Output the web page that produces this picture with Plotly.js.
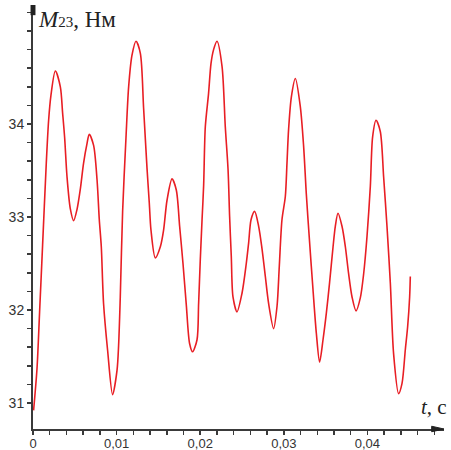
<!DOCTYPE html>
<html>
<head>
<meta charset="utf-8">
<script src="https://cdn.plot.ly/plotly-3.0.1.min.js"></script>
<style>html,body{margin:0;padding:0;background:#fff;}#chart{width:451px;height:450px;}</style>
</head>
<body>
<div id="chart"></div>
<script>
// time, s
const tValues = [
  0.00007, 0.00048, 0.00079, 0.00115, 0.00159, 0.00187, 0.00215, 0.00267,
  0.00327, 0.00354, 0.00378, 0.00407, 0.00446, 0.00486,
  0.00526, 0.00566, 0.00605, 0.00646, 0.00673,
  0.00725, 0.00766, 0.00793, 0.00817, 0.00844, 0.00892, 0.00952,
  0.01005, 0.01024, 0.01044, 0.01072, 0.01112, 0.01144, 0.01184, 0.01232,
  0.01284, 0.01323, 0.01364, 0.01391, 0.01411, 0.01463,
  0.01523, 0.01562, 0.01603, 0.01663,
  0.01714, 0.01754, 0.01794, 0.01834, 0.01873, 0.01909,
  0.01962, 0.01981, 0.02001, 0.02022, 0.02041, 0.02061, 0.02100, 0.02129, 0.02160, 0.02201,
  0.02261, 0.02300, 0.02333, 0.02352, 0.02372, 0.02392, 0.02440,
  0.02500, 0.02551, 0.02579, 0.02608, 0.02651,
  0.02699, 0.02739, 0.02779, 0.02818, 0.02878,
  0.02919, 0.02946, 0.02978, 0.03018, 0.03038, 0.03057, 0.03090, 0.03138,
  0.03197, 0.03237, 0.03269, 0.03309, 0.03349, 0.03389, 0.03428,
  0.03469, 0.03508, 0.03548, 0.03589, 0.03616, 0.03648,
  0.03696, 0.03736, 0.03775, 0.03816, 0.03864,
  0.03915, 0.03955, 0.03995, 0.04035, 0.04062, 0.04103,
  0.04154, 0.04194, 0.04234, 0.04274, 0.04313, 0.04373,
  0.04414, 0.04453, 0.04481, 0.04505, 0.04513
];
// torque M23, N·m
const mValues = [
  30.92, 31.37, 31.98, 32.70, 33.58, 34.04, 34.31, 34.57,
  34.40, 34.12, 33.86, 33.43, 33.09, 32.96,
  33.08, 33.30, 33.58, 33.79, 33.89,
  33.77, 33.40, 32.97, 32.68, 32.07, 31.57, 31.09,
  31.35, 31.62, 32.14, 33.06, 33.85, 34.40, 34.74, 34.89,
  34.76, 34.17, 33.52, 33.15, 32.86, 32.56,
  32.68, 32.86, 33.18, 33.41,
  33.29, 32.90, 32.50, 32.05, 31.64, 31.55,
  31.68, 32.07, 32.54, 32.97, 33.34, 33.97, 34.33, 34.65, 34.80, 34.89,
  34.62, 33.97, 33.51, 33.00, 32.57, 32.14, 31.98,
  32.18, 32.50, 32.72, 32.97, 33.06,
  32.90, 32.66, 32.36, 32.07, 31.80,
  32.04, 32.47, 32.97, 33.22, 33.58, 33.94, 34.29, 34.49,
  34.19, 33.76, 33.25, 32.72, 32.22, 31.75, 31.44,
  31.68, 31.96, 32.30, 32.68, 32.90, 33.04,
  32.90, 32.68, 32.39, 32.14, 31.99,
  32.13, 32.39, 32.79, 33.33, 33.86, 34.04,
  33.92, 33.43, 32.90, 32.29, 31.53, 31.10,
  31.21, 31.57, 31.82, 32.14, 32.36
];

// tick positions and labels
const xTickVals = [];
const xTickText = [];
for (let i = 0; i <= 24; i++) {
  xTickVals.push(i * 0.002);
  xTickText.push(i % 5 === 0 ? (i === 0 ? '0' : ('0,0' + (i / 5))) : '');
}
const yTickVals = [];
const yTickText = [];
const yLabelled = [31, 32, 33, 34];
for (let i = 0; i <= 21; i++) {
  const v = 31 + i * 0.2;
  yTickVals.push(v);
  const isMajor = i % 5 === 0 && yLabelled.indexOf(31 + i / 5) >= 0;
  yTickText.push(isMajor ? String(31 + i / 5) : '');
}

const trace = {
  x: tValues, y: mValues, type: 'scatter', mode: 'lines',
  line: {color: 'rgb(232,30,36)', width: 1.6, shape: 'spline', smoothing: 0.8},
  hoverinfo: 'skip'
};

const axisColor = '#3a3a3a';
const tickFont = {family: 'Liberation Sans, Arial, sans-serif', size: 13, color: '#333'};
const layout = {
  width: 451, height: 450,
  margin: {l: 33, r: 7, t: 5, b: 21, pad: 0},
  paper_bgcolor: '#fff', plot_bgcolor: '#fff',
  showlegend: false,
  font: {family: 'Liberation Sans, Arial, sans-serif', size: 13, color: '#333'},
  xaxis: {
    range: [0, 0.04916], showgrid: false, zeroline: false,
    showline: true, linecolor: axisColor, linewidth: 2,
    tickmode: 'array', tickvals: xTickVals, ticktext: xTickText,
    ticks: 'outside', ticklen: 4, tickwidth: 1.5, tickcolor: axisColor,
    tickfont: tickFont, ticklabelstandoff: -3,
    fixedrange: true
  },
  yaxis: {
    range: [30.72, 35.28], showgrid: false, zeroline: false,
    showline: true, linecolor: axisColor, linewidth: 2,
    tickmode: 'array', tickvals: yTickVals, ticktext: yTickText,
    ticks: 'outside', ticklen: 4, tickwidth: 1.5, tickcolor: axisColor,
    tickfont: {family: 'Liberation Sans, Arial, sans-serif', size: 14, color: '#333'},
    fixedrange: true
  },
  shapes: [
    {type: 'rect', xref: 'paper', yref: 'paper', x0: -0.006, x1: 0.006, y0: 0.976, y1: 1.0,
     fillcolor: '#222', line: {width: 0}},
    {type: 'path', xref: 'paper', yref: 'paper',
     path: 'M 0.97 0.0065 L 1.0 0 L 0.97 -0.0065 Z',
     fillcolor: '#222', line: {color: '#222', width: 1}}
  ],
  annotations: [
    {xref: 'paper', yref: 'paper', x: 0.008, y: 1.0, xanchor: 'left', yanchor: 'top',
     yshift: 0, showarrow: false,
     text: '<i>M</i><span style="font-size:15px">23</span>, Нм',
     font: {family: 'Liberation Serif, Times New Roman, serif', size: 23, color: '#222'}},
    {xref: 'paper', yref: 'paper', x: 0.94, y: 0.02, xanchor: 'left', yanchor: 'bottom',
     showarrow: false,
     text: '<i>t</i>, c',
     font: {family: 'Liberation Serif, Times New Roman, serif', size: 21, color: '#222'}}
  ]
};

Plotly.newPlot('chart', [trace], layout, {displayModeBar: false, staticPlot: true});
</script>
</body>
</html>
